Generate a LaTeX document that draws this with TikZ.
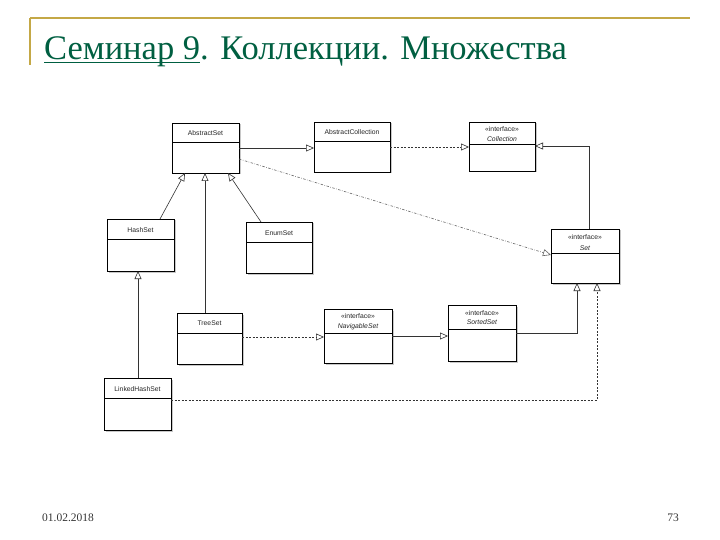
\documentclass[tikz,border=0pt]{standalone}
\usepackage{fontspec}
\setmainfont{Liberation Serif}
\newfontfamily\boxfont{Liberation Sans}
\usetikzlibrary{arrows.meta,calc}
\definecolor{titlegreen}{RGB}{0,95,65}
\definecolor{framegold}{RGB}{196,168,70}
\definecolor{shadowgray}{RGB}{200,200,200}
\newcommand\myul[1]{\setbox0\hbox{#1}\rlap{\rule[-3.5pt]{\wd0}{1.3pt}}#1}
\tikzset{
  umlbox/.style={draw=black, line width=0.9pt, fill=white, inner sep=0pt, outer sep=0pt},
  lbl/.style={font=\boxfont\fontsize{6.8}{7}\selectfont, inner sep=0pt, text=black!85},
  ilbl/.style={lbl, font=\boxfont\itshape\fontsize{6.8}{7}\selectfont},
  gen/.style={draw=black!80, line width=0.6pt, -{Triangle[open, length=8pt, width=7pt, line width=0.6pt]}},
  real/.style={gen, dash pattern=on 2pt off 1.5pt},
  dotreal/.style={gen, draw=black!60, dash pattern=on 2.5pt off 1.5pt on 0.6pt off 1.5pt}
}
\newcommand\umlbox[6]{%
  \fill[shadowgray] (#2+1.5,#3+1.5) rectangle (#4+1.5,#5+1.5);
  \node[umlbox, anchor=north west, minimum width={(#4-#2)*1pt}, minimum height={(#5-#3)*1pt}] (#1) at (#2,#3) {};
  \draw[line width=0.7pt] (#1.west |- 0,#6) -- (#1.east |- 0,#6);
}
\begin{document}
\begin{tikzpicture}[x=1pt,y=-1pt]
\useasboundingbox (0,0) rectangle (720,540);
% frame
\draw[framegold, line width=1.3pt] (30,18) -- (690,18);
\draw[framegold, line width=1.3pt] (30,18) -- (30,65);
% title
\node[anchor=base west, inner sep=0pt, text=titlegreen, font=\fontsize{34.5}{38}\selectfont] (title) at (44,60)
  {\myul{Семинар 9}. Коллекции. Множества};
% boxes
\umlbox{abs}{172}{123}{239}{173}{142}
\node[lbl] (absl) at (abs.north |- 0,133) {AbstractSet};
\umlbox{acol}{314}{122}{390}{172}{141}
\node[lbl] (acoll) at (acol.north |- 0,132) {AbstractCollection};
\umlbox{coll}{469}{122}{535}{171}{144}
\node[lbl] (collst) at (coll.north |- 0,129) {«interface»};
\node[ilbl] (colll) at (coll.north |- 0,139) {Collection};
\umlbox{hash}{107}{219}{174}{271}{239}
\node[lbl] (hashl) at (hash.north |- 0,230) {HashSet};
\umlbox{enum}{246}{222}{312}{273}{242}
\node[lbl] (enuml) at (enum.north |- 0,233) {EnumSet};
\umlbox{set}{551}{229}{619}{283}{253}
\node[lbl] (setst) at (set.north |- 0,237) {«interface»};
\node[ilbl] (setl) at (set.north |- 0,248) {Set};
\umlbox{tree}{177}{313}{242}{364}{333}
\node[lbl] (treel) at (tree.north |- 0,323) {TreeSet};
\umlbox{nav}{324}{309}{392}{363}{333}
\node[lbl] (navst) at (nav.north |- 0,316) {«interface»};
\node[ilbl] (navl) at (nav.north |- 0,327) {NavigableSet};
\umlbox{sorted}{448}{305}{516}{361}{329}
\node[lbl] (sortst) at (sorted.north |- 0,313) {«interface»};
\node[ilbl] (sortl) at (sorted.north |- 0,322) {SortedSet};
\umlbox{lhs}{104}{378}{171}{430}{398}
\node[lbl] (lhsl) at (lhs.north |- 0,389) {LinkedHashSet};
% connectors
\draw[gen] (abs.east |- 0,148) -- (acol.west |- 0,148);
\draw[real] (acol.east |- 0,147) -- (coll.west |- 0,147);
\draw[gen] (set.north -| 589,0) |- (coll.east |- 0,146);
\draw[dotreal] (abs.east |- 0,159) -- (set.west |- 0,255);
\draw[gen] (hash.north -| 160,0) -- (abs.south -| 185,0);
\draw[gen] (enum.north -| 261,0) -- (abs.south -| 228,0);
\draw[gen] (tree.north -| 205,0) -- (abs.south -| 205,0);
\draw[gen] (lhs.north -| 138,0) -- (hash.south -| 138,0);
\draw[real] (tree.east |- 0,337) -- (nav.west |- 0,337);
\draw[gen] (nav.east |- 0,336) -- (sorted.west |- 0,336);
\draw[gen] (sorted.east |- 0,333) -| (set.south -| 577,0);
\draw[real] (lhs.east |- 0,400) -| (set.south -| 597,0);
% footer
\node[anchor=base west, inner sep=0pt, font=\fontsize{11.5}{13}\selectfont, text=black!80] (date) at (42,521) {01.02.2018};
\node[anchor=base east, inner sep=0pt, font=\fontsize{11.5}{13}\selectfont, text=black!80] (page) at (679,521) {73};
\end{tikzpicture}
\end{document}
